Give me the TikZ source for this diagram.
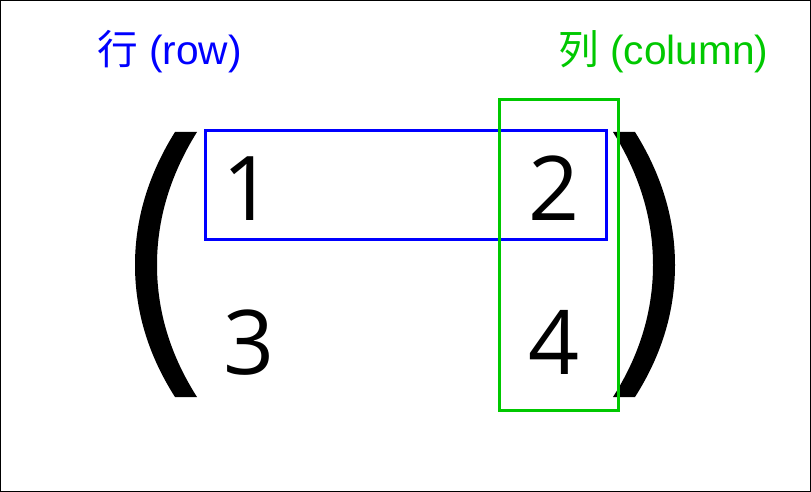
\documentclass[tikz,border=0pt]{standalone}
\usepackage{fontspec}
\setmainfont{Liberation Sans}
\newfontfamily\cjk{Noto Sans CJK SC}
\newfontfamily\digitfont{Open Sans}
\usepackage{tikz}
\definecolor{rowblue}{RGB}{0,0,255}
\definecolor{colgreen}{RGB}{0,200,0}

\begin{document}
\begin{tikzpicture}[x=0.75pt,y=-0.75pt,
	entry/.style={inner sep=0pt,anchor=base,font=\digitfont\fontsize{67}{80}\selectfont},
	label/.style={inner sep=0pt,anchor=base west,font=\fontsize{30.5}{36}\selectfont},
	frame/.style={line width=2.25pt}]
		\useasboundingbox (0,0) rectangle (811,492);
		\draw[line width=0.75pt] (0.5,0.5) rectangle (810.5,491.5);
		% labels
		\node[label,text=rowblue](rowlab) at (97,65) {{\cjk 行} (row)};
		\node[label,text=colgreen](collab) at (558,65) {{\cjk 列} (column)};
		% entries
		\node[entry](e11) at (248,220) {1};
		\node[entry](e12) at (554,220) {2};
		\node[entry](e21) at (249,374) {3};
		\node[entry](e22) at (554,374) {4};
		% parentheses
		\fill (175,132) .. controls (145,180) and (135,225) .. (135,265)
			.. controls (135,305) and (145,350) .. (175,397) -- (197,397)
			.. controls (167,350) and (157,305) .. (157,265)
			.. controls (157,225) and (167,180) .. (197,132) -- cycle;
		\fill (635,132) .. controls (665,180) and (675,225) .. (675,265)
			.. controls (675,305) and (665,350) .. (635,397) -- (613,397)
			.. controls (643,350) and (653,305) .. (653,265)
			.. controls (653,225) and (643,180) .. (613,132) -- cycle;
		% row and column boxes
		\draw[frame,rowblue] (205,131) rectangle (606,239);
		\draw[frame,colgreen] (499,100) rectangle (618,410);
\end{tikzpicture}
\end{document}
